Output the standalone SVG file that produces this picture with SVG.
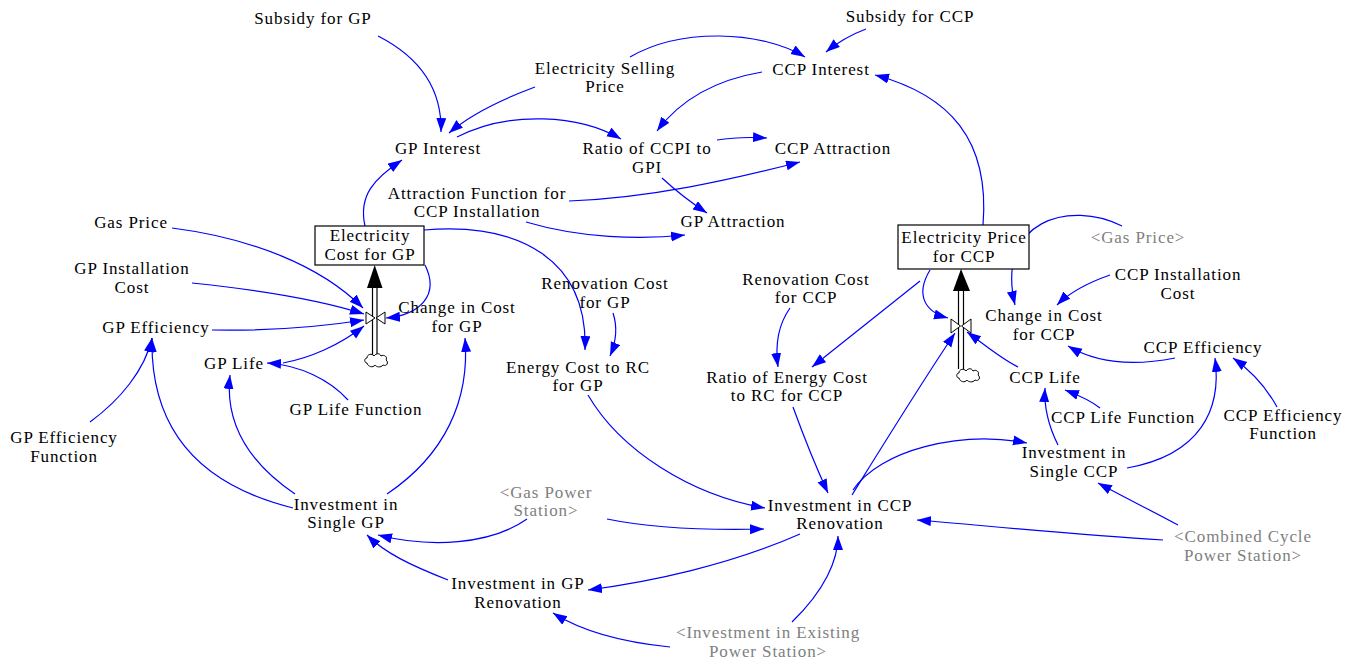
<svg xmlns="http://www.w3.org/2000/svg" width="1357" height="661" viewBox="0 0 1357 661">
<style>
.t{font-family:"Liberation Serif","Times New Roman",serif;font-size:17px;letter-spacing:0.9px;text-anchor:middle;fill:#000}
.g{fill:#808080}
.c path{fill:none;stroke:#0000ff;stroke-width:1.2;marker-end:url(#ah)}
.box{fill:#fff;stroke:#000;stroke-width:1.2}
.pipe{stroke:#000;stroke-width:1.2;fill:none}
.valve{fill:#fff;stroke:#000;stroke-width:1}
.cloud{fill:#fff;stroke:#000;stroke-width:1}
</style>
<defs>
<marker id="ah" markerUnits="userSpaceOnUse" markerWidth="15" markerHeight="11" refX="14" refY="5" orient="auto" viewBox="0 0 15 11">
<path d="M0,0 L14,5 L0,10 Z" fill="#0000ff"/>
</marker>
<path id="cl" d="M3,10 C0,10 0,5 3,5 C3,1 8,0 10,3 C12,0 16,0 17,3 C20,1 24,4 22,7 C25,9 23,14 19,12 C17,15 12,14 11,12 C9,15 4,14 3,10 Z"/>
</defs>
<rect width="1357" height="661" fill="#fff"/>

<g id="connectors" class="c">
<path d="M378,36 C425,60 442,95 441,132"/>
<path d="M535,87 C500,100 470,115 449,133"/>
<path d="M630,57 C680,28 760,30 805,57"/>
<path d="M866,29 C850,35 838,42 826,52"/>
<path d="M457,137 C510,110 580,115 621,139"/>
<path d="M762,72 C715,80 680,100 657,131"/>
<path d="M717,140 C735,137 750,137 767,138"/>
<path d="M662,178 C675,190 690,202 707,213"/>
<path d="M569,201 C650,198 730,180 800,162"/>
<path d="M526,222 C580,238 640,240 685,235"/>
<path d="M365,226 C358,195 375,178 402,160"/>
<path d="M983,225 C990,140 950,95 875,75"/>
<path d="M172,228 C250,238 320,265 363,308"/>
<path d="M192,283 C260,290 320,300 364,314"/>
<path d="M212,330 C270,331 320,327 364,320"/>
<path d="M283,363 C310,358 340,345 364,326"/>
<path d="M348,400 C330,380 300,365 267,363"/>
<path d="M90,422 C120,400 145,370 152,338"/>
<path d="M293,508 C200,485 150,430 152,338"/>
<path d="M295,494 C245,460 225,420 230,375"/>
<path d="M387,494 C445,455 470,400 465,338"/>
<path d="M425,265 C440,295 420,315 386,318"/>
<path d="M424,230 C520,222 588,260 585,350"/>
<path d="M613,313 C618,328 616,342 610,356"/>
<path d="M588,395 C620,450 690,495 765,508"/>
<path d="M607,519 C660,530 720,530 764,529"/>
<path d="M527,519 C490,545 430,548 378,535"/>
<path d="M800,534 C730,565 650,582 588,590"/>
<path d="M792,622 C825,590 838,560 838,536"/>
<path d="M670,647 C620,642 580,630 553,613"/>
<path d="M448,580 C410,565 385,553 367,535"/>
<path d="M790,308 C778,325 775,345 778,367"/>
<path d="M920,281 L812,367"/>
<path d="M793,407 C805,440 815,465 828,493"/>
<path d="M852,495 C880,450 920,385 955,333"/>
<path d="M853,490 C880,450 960,430 1027,443"/>
<path d="M930,270 C915,295 925,312 948,318"/>
<path d="M1122,226 C1070,200 995,220 1015,305"/>
<path d="M1110,275 C1090,282 1070,292 1057,305"/>
<path d="M1175,358 C1140,365 1100,365 1068,346"/>
<path d="M1277,407 C1265,385 1250,370 1233,358"/>
<path d="M1127,468 C1200,455 1222,410 1215,358"/>
<path d="M1058,445 C1048,425 1044,405 1045,388"/>
<path d="M1100,408 C1090,400 1078,395 1065,390"/>
<path d="M1018,367 C1000,358 985,345 967,332"/>
<path d="M1178,525 C1150,510 1120,495 1098,483"/>
<path d="M1163,540 C1080,535 1000,527 917,520"/>
</g>

<g id="stock-gp">
<rect class="box" x="315" y="226" width="109" height="39"/>
<text class="t"><tspan x="370" y="241">Electricity</tspan><tspan x="370" y="260">Cost for GP</tspan></text>
</g>
<g id="flow-gp">
<line class="pipe" x1="372.5" y1="288" x2="372.5" y2="356"/>
<line class="pipe" x1="377" y1="288" x2="377" y2="356"/>
<polygon points="374.7,265 367,288 382.5,288" fill="#000"/>
<polygon class="valve" points="366,312 375,318 366,324"/>
<polygon class="valve" points="385,312 376,318 385,324"/>
<use href="#cl" class="cloud" transform="translate(364,353)"/>
</g>

<g id="stock-ccp">
<rect class="box" x="898" y="225" width="131" height="44"/>
<text class="t"><tspan x="964" y="243">Electricity Price</tspan><tspan x="964" y="262">for CCP</tspan></text>
</g>
<g id="flow-ccp">
<line class="pipe" x1="958.5" y1="290" x2="958.5" y2="369"/>
<line class="pipe" x1="963.5" y1="290" x2="963.5" y2="369"/>
<polygon points="961,269 953,291 970,291" fill="#000"/>
<polygon class="valve" points="951,319 960.5,326 951,333"/>
<polygon class="valve" points="971,319 961.5,326 971,333"/>
<use href="#cl" class="cloud" transform="translate(956,368)"/>
</g>

<g id="subsidy-gp"><text class="t" x="313" y="24">Subsidy for GP</text></g>
<g id="subsidy-ccp"><text class="t" x="910" y="22">Subsidy for CCP</text></g>
<g id="elec-selling"><text class="t"><tspan x="605" y="74">Electricity Selling</tspan><tspan x="605" y="92">Price</tspan></text></g>
<g id="ccp-interest"><text class="t" x="821" y="75">CCP Interest</text></g>
<g id="gp-interest"><text class="t" x="438" y="154">GP Interest</text></g>
<g id="ratio-ccpi"><text class="t"><tspan x="647" y="154">Ratio of CCPI to</tspan><tspan x="647" y="173">GPI</tspan></text></g>
<g id="ccp-attraction"><text class="t" x="833" y="154">CCP Attraction</text></g>
<g id="attr-fn"><text class="t"><tspan x="477" y="199">Attraction Function for</tspan><tspan x="477" y="217">CCP Installation</tspan></text></g>
<g id="gp-attraction"><text class="t" x="733" y="227">GP Attraction</text></g>
<g id="gas-price"><text class="t" x="131" y="228">Gas Price</text></g>
<g id="gp-install"><text class="t"><tspan x="132" y="274">GP Installation</tspan><tspan x="132" y="293">Cost</tspan></text></g>
<g id="change-gp"><text class="t"><tspan x="457" y="313">Change in Cost</tspan><tspan x="457" y="332">for GP</tspan></text></g>
<g id="reno-gp"><text class="t"><tspan x="605" y="289">Renovation Cost</tspan><tspan x="605" y="308">for GP</tspan></text></g>
<g id="gp-eff"><text class="t" x="156" y="333">GP Efficiency</text></g>
<g id="gp-life"><text class="t" x="234" y="369">GP Life</text></g>
<g id="energy-gp"><text class="t"><tspan x="578" y="373">Energy Cost to RC</tspan><tspan x="578" y="391">for GP</tspan></text></g>
<g id="gp-life-fn"><text class="t" x="356" y="415">GP Life Function</text></g>
<g id="gp-eff-fn"><text class="t"><tspan x="64" y="443">GP Efficiency</tspan><tspan x="64" y="462">Function</tspan></text></g>
<g id="inv-single-gp"><text class="t"><tspan x="346" y="510">Investment in</tspan><tspan x="346" y="528">Single GP</tspan></text></g>
<g id="gas-power"><text class="t g"><tspan x="546" y="498">&lt;Gas Power</tspan><tspan x="546" y="516">Station&gt;</tspan></text></g>
<g id="inv-ccp-reno"><text class="t"><tspan x="840" y="511">Investment in CCP</tspan><tspan x="840" y="529">Renovation</tspan></text></g>
<g id="inv-gp-reno"><text class="t"><tspan x="518" y="589">Investment in GP</tspan><tspan x="518" y="608">Renovation</tspan></text></g>
<g id="inv-existing"><text class="t g"><tspan x="768" y="638">&lt;Investment in Existing</tspan><tspan x="768" y="657">Power Station&gt;</tspan></text></g>
<g id="gas-price-shadow"><text class="t g" x="1138" y="243">&lt;Gas Price&gt;</text></g>
<g id="ccp-install"><text class="t"><tspan x="1178" y="280">CCP Installation</tspan><tspan x="1178" y="299">Cost</tspan></text></g>
<g id="reno-ccp"><text class="t"><tspan x="806" y="285">Renovation Cost</tspan><tspan x="806" y="303">for CCP</tspan></text></g>
<g id="change-ccp"><text class="t"><tspan x="1044" y="321">Change in Cost</tspan><tspan x="1044" y="340">for CCP</tspan></text></g>
<g id="ccp-eff"><text class="t" x="1203" y="353">CCP Efficiency</text></g>
<g id="ratio-energy"><text class="t"><tspan x="787" y="383">Ratio of Energy Cost</tspan><tspan x="787" y="401">to RC for CCP</tspan></text></g>
<g id="ccp-life"><text class="t" x="1045" y="383">CCP Life</text></g>
<g id="ccp-life-fn"><text class="t" x="1123" y="423">CCP Life Function</text></g>
<g id="ccp-eff-fn"><text class="t"><tspan x="1283" y="421">CCP Efficiency</tspan><tspan x="1283" y="439">Function</tspan></text></g>
<g id="inv-single-ccp"><text class="t"><tspan x="1074" y="458">Investment in</tspan><tspan x="1074" y="477">Single CCP</tspan></text></g>
<g id="combined-cycle"><text class="t g"><tspan x="1243" y="542">&lt;Combined Cycle</tspan><tspan x="1243" y="561">Power Station&gt;</tspan></text></g>
</svg>
